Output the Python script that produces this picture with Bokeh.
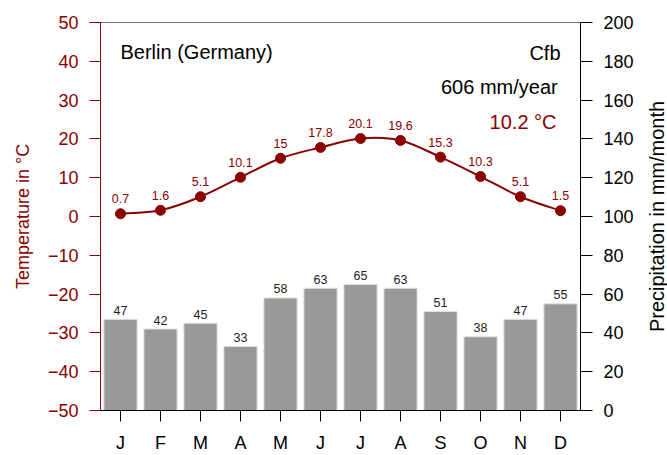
from bokeh.plotting import figure
from bokeh.layouts import row
from bokeh.models import Range1d, LinearAxis, FixedTicker, Label, ColumnDataSource
from bokeh.core.properties import value
from bokeh.embed import file_html
from bokeh.resources import INLINE

# ---- data ----
month_labels = ["J", "F", "M", "A", "M", "J", "J", "A", "S", "O", "N", "D"]
temperature = [0.7, 1.6, 5.1, 10.1, 15, 17.8, 20.1, 19.6, 15.3, 10.3, 5.1, 1.5]
precipitation = [47, 42, 45, 33, 58, 63, 65, 63, 51, 38, 47, 55]
temp_ticks = [-50, -40, -30, -20, -10, 0, 10, 20, 30, 40, 50]
precip_ticks = [0, 20, 40, 60, 80, 100, 120, 140, 160, 180, 200]
station = "Berlin (Germany)"
climate_class = "Cfb"
annual_precip = "606 mm/year"
annual_temp = "10.2 °C"
temp_title = "Temperature in °C"
precip_title = "Precipitation in mm/month"

DARKRED = "#8B0000"
FONT = "Liberation Sans"

months = list(range(1, len(month_labels) + 1))

W, H = 643, 455
p = figure(width=W, height=H, output_backend="svg", toolbar_location=None,
           x_range=Range1d(0.5, 12.5), y_range=Range1d(-50, 50),
           min_border_left=100, min_border_right=63, min_border_top=22, min_border_bottom=43,
           background_fill_color="white", border_fill_color="white")
p.extra_y_ranges = {"precip": Range1d(0, 200)}
p.xgrid.visible = False
p.ygrid.visible = False
p.outline_line_color = "#707070"
p.outline_line_width = 1

# bars
src_b = ColumnDataSource(dict(x=months, top=precipitation,
                              lab=[str(v) for v in precipitation]))
p.vbar(x="x", top="top", bottom=0, width=0.83, source=src_b, y_range_name="precip",
       fill_color="#999999", line_color="#e0e0e0", line_width=1)
p.text(x="x", y="top", text="lab", source=src_b, y_range_name="precip",
       text_align="center", text_baseline="middle", y_offset=-9,
       text_font=value(FONT), text_font_size="12.5px", text_color="#222222")

# smooth temperature curve (Catmull-Rom through the data points)
n = len(months)
bx0, by0, bx1, by1, cx0, cy0, cx1, cy1 = [], [], [], [], [], [], [], []
for i in range(n - 1):
    xa, ya_ = months[max(i - 1, 0)], temperature[max(i - 1, 0)]
    xb, yb = months[i], temperature[i]
    xc, yc = months[i + 1], temperature[i + 1]
    xd, yd = months[min(i + 2, n - 1)], temperature[min(i + 2, n - 1)]
    bx0.append(xb); by0.append(yb); bx1.append(xc); by1.append(yc)
    cx0.append(xb + (xc - xa) / 6.0); cy0.append(yb + (yc - ya_) / 6.0)
    cx1.append(xc - (xd - xb) / 6.0); cy1.append(yc - (yd - yb) / 6.0)
p.bezier(x0=bx0, y0=by0, x1=bx1, y1=by1, cx0=cx0, cy0=cy0, cx1=cx1, cy1=cy1,
         line_color=DARKRED, line_width=2)

src_t = ColumnDataSource(dict(x=months, y=temperature,
                              lab=[f"{v:g}" for v in temperature]))
p.scatter(x="x", y="y", source=src_t, size=10, fill_color=DARKRED, line_color=DARKRED)
p.text(x="x", y="y", text="lab", source=src_t, text_align="center",
       text_baseline="middle", y_offset=-15,
       text_font=value(FONT), text_font_size="12.5px", text_color=DARKRED)

# text annotations
for txt, x, y, align, col in [(station, 1.0, 42.4, "left", "black"),
                              (climate_class, 12.0, 42.2, "right", "black"),
                              (annual_precip, 11.93, 33.4, "right", "black"),
                              (annual_temp, 11.9, 24.4, "right", DARKRED)]:
    p.add_layout(Label(x=x, y=y, text=txt, text_align=align, text_baseline="alphabetic",
                       text_font=FONT, text_font_size="20px", text_color=col))

# left axis (temperature)
ya = p.yaxis[0]
ya.ticker = FixedTicker(ticks=temp_ticks)
ya.axis_label = temp_title
ya.axis_label_text_font = FONT
ya.axis_label_text_font_style = "normal"
ya.axis_label_text_font_size = "18px"
ya.axis_label_text_color = DARKRED
ya.axis_label_standoff = 12
ya.major_label_text_font = FONT
ya.major_label_text_font_size = "18px"
ya.major_label_text_color = DARKRED
ya.major_label_standoff = 11
ya.axis_line_color = DARKRED
ya.major_tick_line_color = DARKRED
ya.major_tick_out = 11
ya.major_tick_in = 0
ya.minor_tick_line_color = None

# right axis (precipitation)
ra = LinearAxis(y_range_name="precip", ticker=FixedTicker(ticks=precip_ticks))
ra.major_label_text_font = FONT
ra.major_label_text_font_size = "18px"
ra.major_label_text_color = "black"
ra.major_label_standoff = 11
ra.axis_line_color = "black"
ra.major_tick_line_color = "black"
ra.major_tick_out = 12
ra.major_tick_in = 0
ra.minor_tick_line_color = None
p.add_layout(ra, "right")

# bottom axis (months)
xa_ = p.xaxis[0]
xa_.ticker = FixedTicker(ticks=months)
xa_.major_label_overrides = {m: lab for m, lab in zip(months, month_labels)}
xa_.major_label_text_font = FONT
xa_.major_label_text_font_size = "18px"
xa_.major_label_text_color = "black"
xa_.major_label_standoff = 11
xa_.axis_line_color = "black"
xa_.major_tick_line_color = "black"
xa_.major_tick_out = 11
xa_.major_tick_in = 0
xa_.minor_tick_line_color = None

# narrow side panel carrying the precipitation title (reads bottom to top)
p2 = figure(width=667 - W, height=H, output_backend="svg", toolbar_location=None,
            x_range=Range1d(0, 1), y_range=Range1d(0, 1), x_axis_location=None,
            min_border_left=23, min_border_right=0, min_border_top=22, min_border_bottom=43,
            background_fill_color="white", border_fill_color="white")
p2.outline_line_color = None
p2.xgrid.visible = False
p2.ygrid.visible = False
a2 = p2.yaxis[0]
a2.ticker = FixedTicker(ticks=[])
a2.axis_line_color = None
a2.major_tick_line_color = None
a2.minor_tick_line_color = None
a2.major_label_standoff = 0
a2.axis_label = precip_title
a2.axis_label_standoff = 0
a2.axis_label_text_font = FONT
a2.axis_label_text_font_style = "normal"
a2.axis_label_text_font_size = "20px"
a2.axis_label_text_color = "black"

layout = row(p, p2, spacing=0)
open("out.html", "w").write(file_html(layout, INLINE))
